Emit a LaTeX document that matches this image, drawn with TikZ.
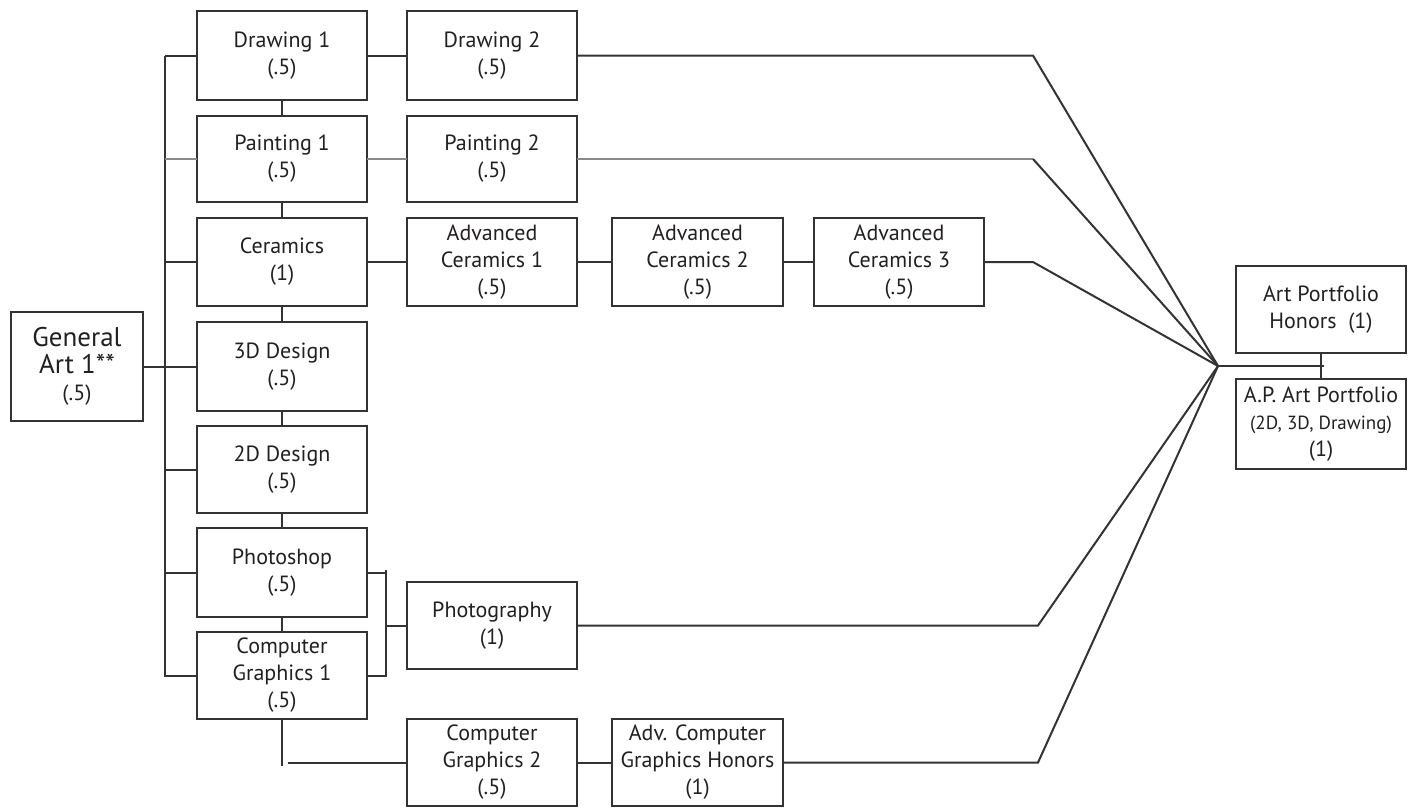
\documentclass[tikz,border=0pt]{standalone}
\usepackage{fontspec}
\setmainfont{PT Sans}
\definecolor{ln}{HTML}{333333}
\definecolor{lt}{HTML}{8A8A8A}
\definecolor{tx}{HTML}{231F20}
\newcommand\mkbox[6]{\node[box, minimum width=(#4-#2)*0.5pt, minimum height=(#5-#3)*0.5pt] (#1) at (#2,#3) {#6};}
\begin{document}
\begin{tikzpicture}[x=0.5pt,y=-0.5pt]
\tikzset{
  box/.style={draw=ln, line width=1.1pt, inner sep=0pt, outer sep=0pt, align=center,
    font=\fontsize{11}{13.5}\selectfont, text=tx, anchor=north west},
  conn/.style={draw=ln, line width=1pt},
  lconn/.style={draw=lt, line width=1pt}
}
\useasboundingbox (0,0) rectangle (1416,809);

\mkbox{gen}{11}{312}{143}{421}{\fontsize{13.5}{16}\selectfont General\\\fontsize{13.5}{16}\selectfont Art 1**\\\fontsize{11}{13}\selectfont (.5)}
\mkbox{d1}{197}{11}{367}{100}{Drawing 1\\(.5)}
\mkbox{p1}{197}{116}{367}{202}{Painting 1\\(.5)}
\mkbox{cer}{197}{218}{367}{306}{Ceramics\\(1)}
\mkbox{d3}{197}{322}{367}{411}{3D Design\\(.5)}
\mkbox{d2d}{197}{426}{367}{513}{2D Design\\(.5)}
\mkbox{ps}{197}{528}{367}{617}{Photoshop\\(.5)}
\mkbox{cg1}{197}{632}{367}{719}{Computer\\Graphics 1\\(.5)}
\mkbox{dr2}{407}{11}{577}{100}{Drawing 2\\(.5)}
\mkbox{pa2}{407}{116}{577}{202}{Painting 2\\(.5)}
\mkbox{ac1}{407}{218}{577}{306}{Advanced\\Ceramics 1\\(.5)}
\mkbox{ac2}{612}{218}{783}{306}{Advanced\\Ceramics 2\\(.5)}
\mkbox{ac3}{814}{218}{984}{306}{Advanced\\Ceramics 3\\(.5)}
\mkbox{photo}{407}{582}{577}{669}{Photography\\(1)}
\mkbox{cg2}{407}{719}{577}{806}{Computer\\Graphics 2\\(.5)}
\mkbox{acg}{612}{719}{783}{806}{Adv. Computer\\Graphics Honors\\(1)}
\mkbox{apH}{1236}{266}{1406}{353}{Art Portfolio\\Honors~~(1)}
\mkbox{ap}{1236}{379}{1406}{469}{A.P. Art Portfolio\\\fontsize{9.5}{12}\selectfont (2D, 3D, Drawing)\\(1)}

% left bus
\coordinate (bt) at (165,55.5);
\coordinate (bb) at (165,677);
\draw[conn] (bt) -- (bb);
\draw[conn] (gen) -- (d3);
\draw[conn] (bt) -- (d1.west);
\draw[lconn] (p1.west -| bt) -- (p1.west);
\draw[conn] (cer.west -| bt) -- (cer.west);
\draw[conn] (d2d.west -| bt) -- (d2d.west);
\draw[conn] (ps.west -| bt) -- (ps.west);
\draw[conn] (cg1.west -| bt) -- (cg1.west);

% vertical links
\draw[conn] (d1) -- (p1);
\draw[conn] (p1) -- (cer);
\draw[conn] (cer) -- (d3);
\draw[conn] (d3) -- (d2d);
\draw[conn] (d2d) -- (ps);
\draw[conn] (ps) -- (cg1);

% rows
\draw[conn] (d1) -- (dr2);
\draw[lconn] (p1) -- (pa2);
\draw[conn] (cer) -- (ac1);
\draw[conn] (ac1) -- (ac2);
\draw[conn] (ac2) -- (ac3);
\draw[conn] (cg2) -- (acg);

% bracket to photography
\coordinate (rt) at (386,570);
\coordinate (rb) at (386,677);
\draw[conn] (rt) -- (rb);
\draw[conn] (ps.east) -- (ps.east -| rt);
\draw[conn] (cg1.east) -- (cg1.east -| rt);
\draw[conn] (photo.west -| rt) -- (photo.west);

% cg1 down to cg2
\coordinate (cd) at (282,766);
\coordinate (ch) at (288,762.5);
\draw[conn] (cg1.south) -- (cd);
\draw[conn] (ch) -- (cg2.west);

% convergence
\coordinate (cv) at (1218,366);
\coordinate (xa) at (1033,0);
\coordinate (xb) at (1038,0);
\draw[conn] (dr2.east) -- (dr2.east -| xa) -- (cv);
\draw[lconn] (pa2.east) -- (pa2.east -| xa);
\draw[conn] (pa2.east -| xa) -- (cv);
\draw[conn] (ac3.east) -- (ac3.east -| xa) -- (cv);
\draw[conn] (photo.east) -- (photo.east -| xb) -- (cv);
\draw[conn] (acg.east) -- (acg.east -| xb) -- (cv);

\coordinate (ce) at (1324,366);
\draw[conn] (cv) -- (ce);
\draw[conn] (apH) -- (ap);
\end{tikzpicture}
\end{document}
